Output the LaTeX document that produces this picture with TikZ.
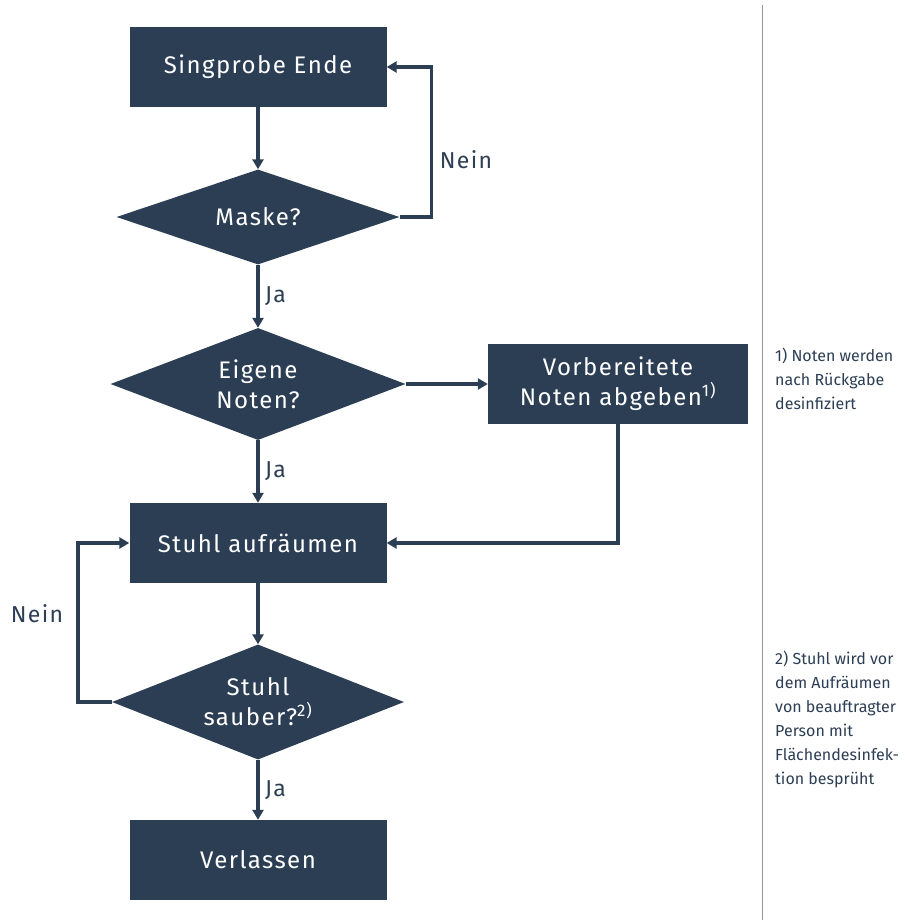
\documentclass[tikz,border=0pt]{standalone}
\usepackage{fontspec}
\setmainfont{Fira Sans}
\newfontfamily\boxfont{Fira Sans}[LetterSpace=6]
\usetikzlibrary{arrows.meta,shapes.geometric}
\definecolor{slate}{RGB}{44,62,84}
\definecolor{rulegrey}{RGB}{140,150,163}
\tikzset{
  stepbox/.style={fill=slate, text=white, minimum width=257pt, minimum height=80pt, inner sep=0pt,
    align=center, font=\boxfont\fontsize{24}{30}\selectfont},
  ask/.style={diamond, aspect=3, fill=slate, text=white, inner sep=0pt, align=center,
    font=\boxfont\fontsize{24}{30}\selectfont},
  flow/.style={draw=slate, line width=3.5pt, -{Triangle[length=10pt,width=11pt]}},
  answer/.style={text=slate, font=\boxfont\fontsize{23}{26}\selectfont},
  note/.style={text=slate, anchor=north west, inner sep=0pt, align=left,
    font=\fontsize{16}{24}\selectfont}
}

\begin{document}
\begin{tikzpicture}[x=1pt,y=-1pt]
		%%%%% START %%%%%
		\useasboundingbox (0,0) rectangle (904,920);
		
		\node[stepbox] (start) at (258, 67) {Singprobe Ende};
		\node[ask, minimum width=283pt, minimum height=95pt] (mask) at (258, 217) {Maske?};
		\node[ask, minimum width=295pt, minimum height=112pt] (own) at (258, 384) {Eigene\\Noten?};
		\node[stepbox, minimum width=260pt] (prep) at (618, 384) {Vorbereitete\\Noten abgeben\textsuperscript{1)}};
		\node[stepbox] (chair) at (258, 543) {Stuhl aufräumen};
		\node[ask, minimum width=292pt, minimum height=115pt] (clean) at (258, 702) {Stuhl\\sauber?\textsuperscript{2)}};
		\node[stepbox] (leave) at (258, 860) {Verlassen};
		
		\draw[flow] (start) -- (mask);
		\draw[flow] (mask.east) -- ++(32,0) |- (start.east);
		\node[answer] (nein1) at (466, 160) {Nein};
		\draw[flow] (mask) -- node[answer, right=2pt] (ja1) {Ja} (own);
		\draw[flow] (own) -- (prep);
		\draw[flow] (own) -- node[answer, right=2pt] (ja2) {Ja} (chair);
		\draw[flow] (prep.south) |- (chair.east);
		\draw[flow] (chair) -- (clean);
		\draw[flow] (clean.west) -- ++(-34,0) |- (chair.west);
		\node[answer] (nein2) at (37, 614) {Nein};
		\draw[flow] (clean) -- node[answer, right=2pt] (ja3) {Ja} (leave);
		
		\draw[rulegrey, line width=1pt] (762, 5) -- (762, 920);
		
		\node[note] (note1) at (775, 348) {1) Noten werden\\nach Rückgabe\\desinfiziert};
		\node[note] (note2) at (775, 651) {2) Stuhl wird vor\\dem Aufräumen\\von beauftragter\\Person mit\\Flächendesinfek-\\tion besprüht};
		%%%%% END %%%%%
\end{tikzpicture}
\end{document}
